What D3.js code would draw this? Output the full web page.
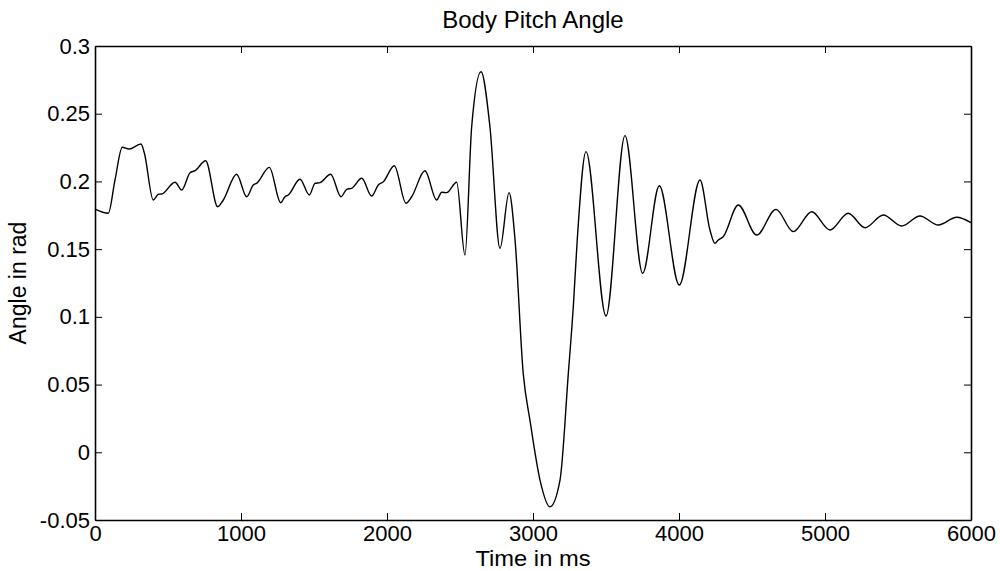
<!DOCTYPE html>
<html>
<head>
<meta charset="utf-8">
<script src="https://cdn.jsdelivr.net/npm/d3@7"></script>
<style>
  html, body { margin: 0; padding: 0; background: #fff; }
  svg text { font-family: "Liberation Sans", Arial, sans-serif; fill: #000; }
</style>
</head>
<body>
<svg id="chart" width="1000" height="571"></svg>
<script>
const timeMs = [0, 91, 137, 187, 233, 315, 338, 399, 434, 457, 548, 594, 651, 685, 758, 840, 879, 970, 1039, 1084, 1107, 1194, 1272, 1301, 1324, 1404, 1468, 1507, 1541, 1614, 1685, 1724, 1758, 1827, 1895, 1940, 1975, 2050, 2130, 2169, 2260, 2340, 2375, 2409, 2477, 2534, 2580, 2644, 2705, 2774, 2836, 2877, 2933, 2979, 3048, 3116, 3185, 3242, 3276, 3303, 3363, 3500, 3630, 3751, 3865, 4002, 4144, 4212, 4246, 4269, 4303, 4406, 4532, 4664, 4783, 4909, 5034, 5159, 5274, 5399, 5525, 5650, 5776, 5902, 6000];
const angleRad = [0.1796, 0.1765, 0.2011, 0.2252, 0.2239, 0.2276, 0.2210, 0.1863, 0.1905, 0.1907, 0.1994, 0.1937, 0.2064, 0.2079, 0.2153, 0.1813, 0.1863, 0.2053, 0.1887, 0.1974, 0.1986, 0.2104, 0.1843, 0.1887, 0.1900, 0.2016, 0.1900, 0.1986, 0.1991, 0.2053, 0.1887, 0.1942, 0.1949, 0.2023, 0.1892, 0.1974, 0.1998, 0.2116, 0.1839, 0.1887, 0.2079, 0.1863, 0.1920, 0.1917, 0.1994, 0.1457, 0.2404, 0.2810, 0.2404, 0.1506, 0.1917, 0.1568, 0.0583, 0.0238, -0.0205, -0.0402, -0.0205, 0.0583, 0.1075, 0.1568, 0.2220, 0.1006, 0.2338, 0.1322, 0.1968, 0.1235, 0.2011, 0.1641, 0.1543, 0.1568, 0.1592, 0.1826, 0.1604, 0.1794, 0.1629, 0.1776, 0.1641, 0.1765, 0.1658, 0.1752, 0.1671, 0.1745, 0.1678, 0.1735, 0.1695];

const xTicks = [0, 1000, 2000, 3000, 4000, 5000, 6000];
const xTickLabels = ["0", "1000", "2000", "3000", "4000", "5000", "6000"];
const yTicks = [-0.05, 0, 0.05, 0.1, 0.15, 0.2, 0.25, 0.3];
const yTickLabels = ["-0.05", "0", "0.05", "0.1", "0.15", "0.2", "0.25", "0.3"];

const titleText = "Body Pitch Angle";
const xLabelText = "Time in ms";
const yLabelText = "Angle in rad";

(function () {
const svg = d3.select("#chart");
const mLeft = 95, mRight = 971, mTop = 46, mBottom = 520;

const x = d3.scaleLinear().domain([0, 6000]).range([mLeft, mRight]);
const y = d3.scaleLinear().domain([-0.05, 0.3]).range([mBottom, mTop]);

const tickFont = 22;

// Line
const data = timeMs.map((t, i) => ({ t, v: angleRad[i] }));
const line = d3.line().x(d => x(d.t)).y(d => y(d.v)).curve(d3.curveMonotoneX);
svg.append("path")
  .datum(data)
  .attr("d", line)
  .attr("fill", "none")
  .attr("stroke", "#000")
  .attr("stroke-width", 1.4)
  .attr("stroke-linejoin", "round");

// Axes
const xFmt = (d) => xTickLabels[xTicks.indexOf(d)];
const yFmt = (d) => yTickLabels[yTicks.indexOf(d)];

const gB = svg.append("g").attr("transform", `translate(0,${mBottom})`)
  .call(d3.axisBottom(x).tickValues(xTicks).tickFormat(xFmt).tickSizeInner(-7).tickSizeOuter(0).tickPadding(5));
const gT = svg.append("g").attr("transform", `translate(0,${mTop})`)
  .call(d3.axisTop(x).tickValues(xTicks).tickFormat("").tickSizeInner(-7).tickSizeOuter(0));
const gL = svg.append("g").attr("transform", `translate(${mLeft},0)`)
  .call(d3.axisLeft(y).tickValues(yTicks).tickFormat(yFmt).tickSizeInner(-7).tickSizeOuter(0).tickPadding(5));
const gR = svg.append("g").attr("transform", `translate(${mRight},0)`)
  .call(d3.axisRight(y).tickValues(yTicks).tickFormat("").tickSizeInner(-7).tickSizeOuter(0));

[gB, gT, gL, gR].forEach(g => {
  g.selectAll(".domain").attr("stroke", "#000").attr("stroke-width", 1.6);
  g.selectAll(".tick line").attr("stroke", "#000").attr("stroke-width", 1);
  g.selectAll("text").attr("font-size", tickFont).attr("font-family", "Liberation Sans, Arial, sans-serif").attr("fill", "#000");
});

// Title and labels
svg.append("text")
  .attr("x", (mLeft + mRight) / 2).attr("y", 28)
  .attr("text-anchor", "middle").attr("font-size", 24)
  .text(titleText);

svg.append("text")
  .attr("x", (mLeft + mRight) / 2).attr("y", 566)
  .attr("text-anchor", "middle").attr("font-size", 22)
  .attr("textLength", 115).attr("lengthAdjust", "spacingAndGlyphs")
  .text(xLabelText);

svg.append("text")
  .attr("transform", `translate(26,${(mTop + mBottom) / 2}) rotate(-90)`)
  .attr("text-anchor", "middle").attr("font-size", 23)
  .text(yLabelText);
})();
</script>
</body>
</html>
